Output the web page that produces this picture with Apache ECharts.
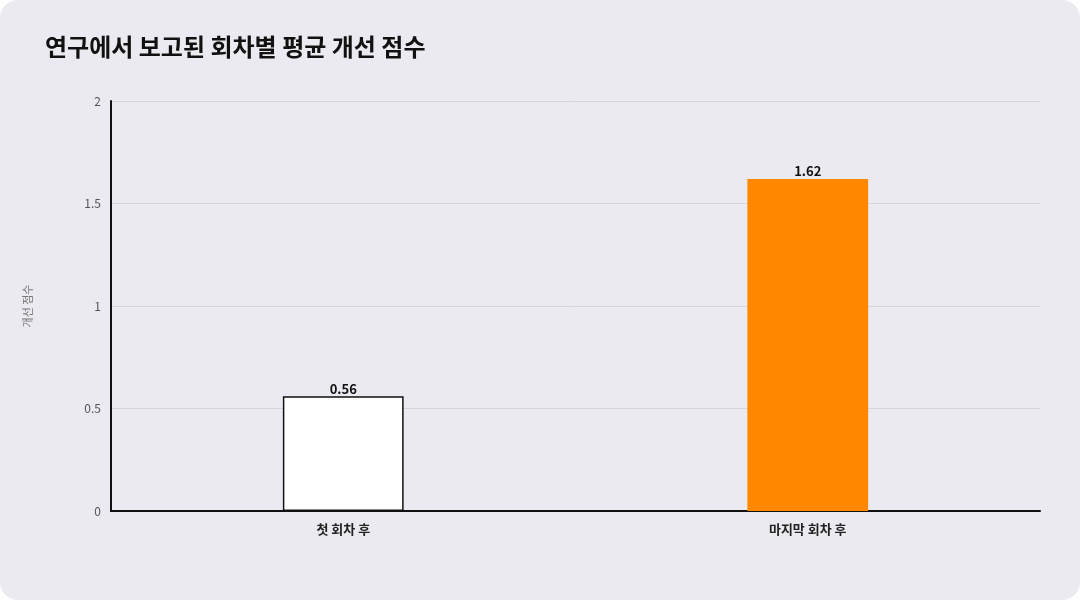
<!DOCTYPE html>
<html><head><meta charset="utf-8">
<script src="https://cdn.jsdelivr.net/npm/echarts@6/dist/echarts.min.js"></script>
<style>html,body{margin:0;padding:0;background:#fff;}#c{width:1080px;height:600px;}</style>
</head><body><div id="c"></div>
<script>
const categories = ["첫 회차 후", "마지막 회차 후"];
const values = [0.56, 1.62];
const barColors = ["#ffffff", "#ff8800"];
const borderColors = ["#111111", "#ff8800"];
const font = "'Noto Sans CJK KR', 'Noto Sans', sans-serif";
const chart = echarts.init(document.getElementById('c'));
chart.setOption({
  backgroundColor: 'transparent',
  graphic: [{type:'rect', shape:{x:0,y:0,width:1080,height:600,r:18}, style:{fill:'#ebeaf0'}, z:-10}],
  title: {text:'연구에서 보고된 회차별 평균 개선 점수', left:40, top:30,
    textStyle:{fontFamily:font, fontSize:24, fontWeight:'bold', color:'#111'}},
  grid: {left:111, right:40, top:101, bottom:89},
  xAxis: {type:'category', data:categories,
    axisLine:{lineStyle:{color:'#111', width:2}}, axisTick:{show:false},
    axisLabel:{fontFamily:font, fontSize:13, color:'#222', fontWeight:'bold', margin:12}},
  yAxis: {type:'value', min:0, max:2, interval:0.5, name:'개선 점수', nameLocation:'middle', nameGap:78,
    nameTextStyle:{fontFamily:font, fontSize:11, color:'#777'},
    axisLine:{show:true, lineStyle:{color:'#111', width:2}}, axisTick:{show:false},
    axisLabel:{fontFamily:font, fontSize:12, color:'#555', margin:10},
    splitLine:{lineStyle:{color:'#d6d5dc'}}},
  series: [{type:'bar', barWidth:'26%',
    data: values.map((v,i)=>({value:v, itemStyle:{color:barColors[i], borderColor:borderColors[i], borderWidth:i===0?1.5:0}})),
    label:{show:true, position:'top', distance:1, fontFamily:font, fontSize:13, fontWeight:'bold', color:'#111'}}]
});
</script></body></html>
